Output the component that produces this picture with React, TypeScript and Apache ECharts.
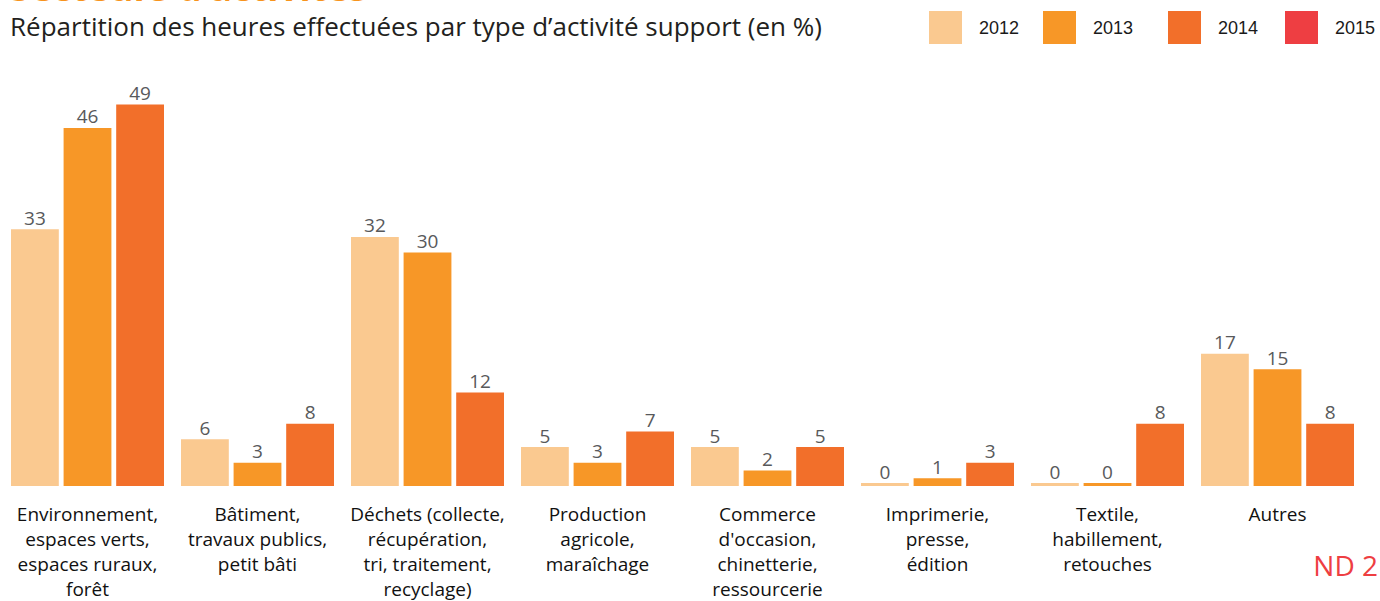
import React, { useEffect, useRef } from "react";
import * as echarts from "echarts";

const categories = [
  "Environnement,\nespaces verts,\nespaces ruraux,\nforêt",
  "Bâtiment,\ntravaux publics,\npetit bâti",
  "Déchets (collecte,\nrécupération,\ntri, traitement,\nrecyclage)",
  "Production\nagricole,\nmaraîchage",
  "Commerce\nd'occasion,\nchinetterie,\nressourcerie",
  "Imprimerie,\npresse,\nédition",
  "Textile,\nhabillement,\nretouches",
  "Autres",
];
const years = ["2012", "2013", "2014", "2015"];
const values2012 = [33, 6, 32, 5, 5, 0, 0, 17];
const values2013 = [46, 3, 30, 3, 2, 1, 0, 15];
const values2014 = [49, 8, 12, 7, 5, 3, 8, 8];
const colors = ["#FAC990", "#F79727", "#F26F2A", "#EE3E42"];

const FONT = "Open Sans";

export default function App() {
  const ref = useRef<HTMLDivElement>(null);
  useEffect(() => {
    if (!ref.current) return;
    const chart = echarts.init(ref.current, undefined, { renderer: "svg" });
    const barLabel = {
      show: true,
      position: "top",
      distance: 2,
      color: "#58595B",
      fontFamily: FONT,
      fontSize: 19,
    };
    const legendLefts = [929, 1043, 1168, 1285];
    chart.setOption({
      animation: false,
      backgroundColor: "#ffffff",
      grid: { left: 2.5, right: 17.5, top: 19, bottom: 112 },
      legend: years.map((y, i) => ({
        data: [y],
        left: legendLefts[i],
        top: 11,
        padding: 0,
        icon: "rect",
        itemWidth: 33,
        itemHeight: 33,
        textStyle: {
          fontFamily: "Liberation Sans",
          fontSize: 18,
          color: "#1a1a1a",
          padding: [0, 0, 5, 12],
        },
        selectedMode: false,
      })),
      xAxis: {
        type: "category",
        data: categories,
        axisLine: { show: false },
        axisTick: { show: false },
        axisLabel: {
          interval: 0,
          margin: 15,
          fontFamily: FONT,
          fontSize: 19,
          lineHeight: 25,
          color: "#111",
          verticalAlign: "top",
        },
      },
      yAxis: { type: "value", min: 0, max: 60, show: false, splitLine: { show: false } },
      graphic: [
        {
          type: "text",
          left: 10,
          top: -32,
          style: {
            text: "Secteurs d’activités",
            font: `bold 37px ${FONT}`,
            fill: "#F7941D",
          },
        },
        {
          type: "text",
          left: 10,
          top: 13,
          style: {
            text: "Répartition des heures effectuées par type d’activité support (en %)",
            font: `26px ${FONT}`,
            fill: "#231F20",
          },
        },
        {
          type: "text",
          right: 2,
          top: 551,
          style: {
            text: "ND 2",
            font: `28px ${FONT}`,
            fill: "#EE3E42",
          },
        },
      ],
      series: [
        {
          name: "2012",
          type: "bar",
          data: values2012,
          itemStyle: { color: colors[0] },
          barCategoryGap: "10%",
          barGap: "10%",
          barMinHeight: 3,
          label: barLabel,
        },
        {
          name: "2013",
          type: "bar",
          data: values2013,
          itemStyle: { color: colors[1] },
          barCategoryGap: "10%",
          barGap: "10%",
          barMinHeight: 3,
          label: barLabel,
        },
        {
          name: "2014",
          type: "bar",
          data: values2014,
          itemStyle: { color: colors[2] },
          barCategoryGap: "10%",
          barGap: "10%",
          barMinHeight: 3,
          label: barLabel,
        },
        {
          name: "2015",
          type: "line",
          data: [],
          itemStyle: { color: colors[3] },
          lineStyle: { color: colors[3] },
        },
      ],
    });
    return () => chart.dispose();
  }, []);
  return (
    <div
      ref={ref}
      style={{ position: "fixed", left: 0, top: 0, width: 1380, height: 601, background: "#fff" }}
    />
  );
}
